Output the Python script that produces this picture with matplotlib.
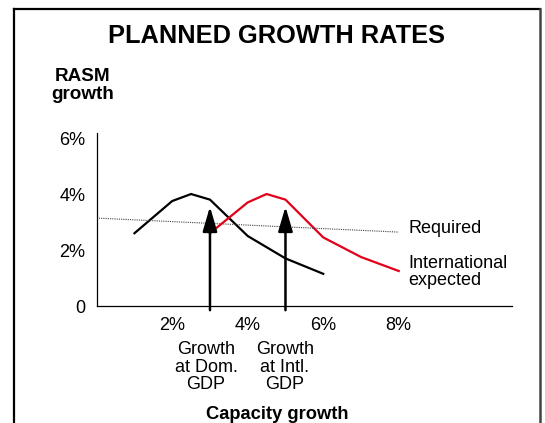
import matplotlib
matplotlib.use("Agg")
import matplotlib.pyplot as plt
from matplotlib.lines import Line2D

plt.rcParams['font.family'] = ['Liberation Sans', 'DejaVu Sans']

# data
dom_x = [1, 2, 2.5, 3, 4, 5, 6]
dom_y = [2.6, 3.75, 4.0, 3.8, 2.5, 1.7, 1.15]
intl_x = [3, 4, 4.5, 5, 6, 7, 8]
intl_y = [2.6, 3.7, 4.0, 3.8, 2.45, 1.75, 1.25]
req_x = [0, 8]
req_y = [3.14, 2.64]
arrow_x = [3, 5]
arrow_top = 3.55
x_ticks = [2, 4, 6, 8]
x_labels = ["2%", "4%", "6%", "8%"]
y_ticks = [0, 2, 4, 6]
y_labels = ["0", "2%", "4%", "6%"]
arrow_notes = ["Growth\nat Dom.\nGDP", "Growth\nat Intl.\nGDP"]

W, H = 545, 423
fig = plt.figure(figsize=(W / 100, H / 100), dpi=100)

def fx(px):
    return px / W

def fy(py):
    return 1 - py / H

ax = fig.add_axes([fx(96.7), fy(306), fx(512) - fx(96.7), fy(133) - fy(306)])
ax.set_xlim(0, 11)
ax.set_ylim(0, 6.18)

ax.plot(dom_x, dom_y, color="black", lw=1.6, solid_joinstyle="miter")
ax.plot(intl_x, intl_y, color="#e2001a", lw=1.6, solid_joinstyle="miter")
ax.plot(req_x, req_y, color="#444444", lw=0.8, linestyle=(0, (1, 1)))

for x in arrow_x:
    ax.annotate("", xy=(x, arrow_top), xytext=(x, -0.15),
                arrowprops=dict(arrowstyle="-|>,head_length=0.75,head_width=0.22",
                                mutation_scale=20, lw=1.8, color="black",
                                shrinkA=0, shrinkB=0),
                annotation_clip=False)

for s in ["top", "right"]:
    ax.spines[s].set_visible(False)
for s in ["left", "bottom"]:
    ax.spines[s].set_linewidth(0.9)

ax.set_xticks(x_ticks)
ax.set_xticklabels(x_labels)
ax.set_yticks(y_ticks)
ax.set_yticklabels(y_labels)
ax.tick_params(length=0, labelsize=13, pad=8)

# text outside the axes
fig.text(fx(277), fy(36), "PLANNED GROWTH RATES", ha="center", va="center",
         fontsize=18.3, fontweight="bold")
fig.text(fx(83), fy(81), "RASM", ha="center", va="baseline", fontsize=13.6, fontweight="bold")
fig.text(fx(83), fy(99), "growth", ha="center", va="baseline", fontsize=13.6, fontweight="bold")

fig.text(fx(409), fy(233), "Required", ha="left", va="baseline", fontsize=13)
fig.text(fx(408), fy(268), "International", ha="left", va="baseline", fontsize=13)
fig.text(fx(408), fy(285), "expected", ha="left", va="baseline", fontsize=13)

for cx, note in zip([206, 285], arrow_notes):
    fig.text(fx(cx), fy(341), note, ha="center", va="top", fontsize=13,
             multialignment="center", linespacing=1.05)

fig.text(fx(277), fy(414), "Capacity growth", ha="center", va="center",
         fontsize=13.2, fontweight="bold")

# frame around the chart
fig.add_artist(Line2D([fx(14), fx(540)], [fy(9), fy(9)], color="black", lw=1.6))
fig.add_artist(Line2D([fx(14), fx(14)], [fy(9), 0], color="black", lw=1.6))
fig.add_artist(Line2D([fx(540), fx(540)], [fy(9), 0], color="#444444", lw=1.8))

fig.savefig("out.png", dpi=100)
